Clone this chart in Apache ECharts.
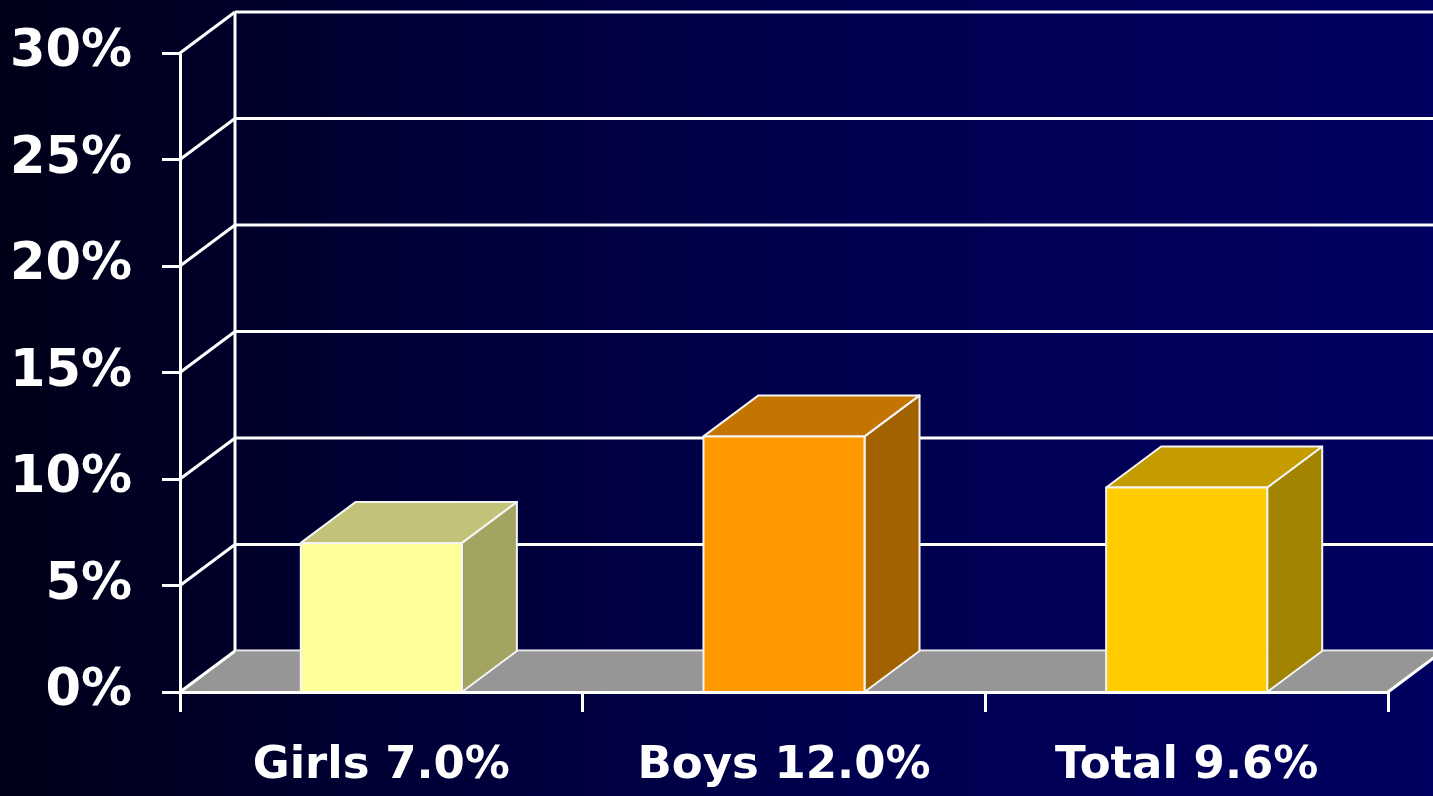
<!DOCTYPE html>
<html>
<head>
<meta charset="utf-8">
<script src="https://cdn.jsdelivr.net/npm/echarts@6/dist/echarts.min.js"></script>
<style>
  html, body { margin: 0; padding: 0; background: #000030; }
  #chart { width: 1433px; height: 796px; }
</style>
</head>
<body>
<div id="chart"></div>
<script>
// data
const categories = ['Girls 7.0%', 'Boys 12.0%', 'Total 9.6%'];
const values = [7.0, 12.0, 9.6];
const yTicks = [0, 5, 10, 15, 20, 25, 30];

// face colours per bar: front, top, side
const frontColors = ['#ffff99', '#ff9900', '#ffcc00'];
const topColors = ['#c2c279', '#c47400', '#c49c00'];
const sideColors = ['#a3a362', '#a36200', '#a38400'];

// depth offset of the 3d look
const DX = 55;
const DY = -41;
const FONT = "'DejaVu Sans', Verdana, sans-serif";

const chart = echarts.init(document.getElementById('chart'));

function backWall(params, api) {
  const cs = params.coordSys;
  const y = api.coord([0, api.value(0)])[1];
  const children = [{
    type: 'line',
    shape: { x1: cs.x + DX, y1: y + DY, x2: cs.x + cs.width + DX, y2: y + DY },
    style: { stroke: '#fff', lineWidth: 3 }
  }];
  if (params.dataIndex === 0) {
    children.push({
      type: 'line',
      shape: { x1: cs.x + DX, y1: cs.y + DY, x2: cs.x + DX, y2: cs.y + cs.height + DY },
      style: { stroke: '#fff', lineWidth: 3 }
    });
  }
  return { type: 'group', children: children };
}

function floor(params, api) {
  const cs = params.coordSys;
  const y = api.coord([0, 0])[1];
  const x0 = cs.x, x1 = cs.x + cs.width;
  return {
    type: 'group',
    children: [{
      type: 'polygon',
      shape: { points: [[x0, y], [x1, y], [x1 + DX, y + DY], [x0 + DX, y + DY]] },
      style: { fill: '#969696' }
    }, {
      type: 'line',
      shape: { x1: x0 + DX, y1: y + DY, x2: x1 + DX, y2: y + DY },
      style: { stroke: '#d0d0d0', lineWidth: 1 }
    }, {
      type: 'line',
      shape: { x1: x1, y1: y, x2: x1 + DX, y2: y + DY },
      style: { stroke: '#fff', lineWidth: 3 }
    }]
  };
}

function sideWall(params, api) {
  const cs = params.coordSys;
  const y = api.coord([0, api.value(0)])[1];
  return {
    type: 'line',
    shape: { x1: cs.x, y1: y, x2: cs.x + DX, y2: y + DY },
    style: { stroke: '#fff', lineWidth: 3 }
  };
}

function bar3d(params, api) {
  const i = api.value(0);
  const base = api.coord([i, 0]);
  const top = api.coord([i, api.value(1)]);
  const w = api.size([1, 0])[0] * 0.4;
  const x = base[0] - w / 2;
  const ty = top[1], by = base[1];
  const edge = { stroke: '#f4f4f4', lineWidth: 2, lineJoin: 'round' };
  return {
    type: 'group',
    children: [{
      type: 'polygon',
      shape: { points: [[x + w, ty], [x + w + DX, ty + DY], [x + w + DX, by + DY], [x + w, by]] },
      style: Object.assign({ fill: sideColors[i] }, edge)
    }, {
      type: 'polygon',
      shape: { points: [[x, ty], [x + DX, ty + DY], [x + w + DX, ty + DY], [x + w, ty]] },
      style: Object.assign({ fill: topColors[i] }, edge)
    }, {
      type: 'rect',
      shape: { x: x, y: ty, width: w, height: by - ty },
      style: Object.assign({ fill: frontColors[i] }, edge)
    }]
  };
}

const option = {
  animation: false,
  backgroundColor: {
    type: 'linear', x: 0, y: 0, x2: 1, y2: 0,
    colorStops: [
      { offset: 0, color: '#000018' },
      { offset: 0.3, color: '#000038' },
      { offset: 0.6, color: '#000050' },
      { offset: 1, color: '#000060' }
    ]
  },
  grid: { left: 180, right: 45, top: 53, bottom: 104 },
  xAxis: {
    type: 'category',
    data: categories,
    z: 10,
    axisLine: { show: true, lineStyle: { color: '#fff', width: 3 } },
    axisTick: { show: true, length: 20, lineStyle: { color: '#fff', width: 3 } },
    axisLabel: {
      color: '#fff', fontSize: 45, fontWeight: 'bold', fontFamily: FONT, margin: 52
    },
    splitLine: { show: false }
  },
  yAxis: {
    type: 'value',
    min: 0,
    max: 30,
    interval: 5,
    z: 10,
    axisLine: { show: true, lineStyle: { color: '#fff', width: 3 } },
    axisTick: { show: true, length: 18, lineStyle: { color: '#fff', width: 3 } },
    axisLabel: {
      color: '#fff', fontSize: 51, fontWeight: 'bold', fontFamily: FONT, margin: 48,
      formatter: '{value}%'
    },
    splitLine: { show: false }
  },
  series: [{
    type: 'custom',
    z: 1,
    renderItem: backWall,
    data: yTicks.map(v => [v]),
    silent: true
  }, {
    type: 'custom',
    z: 2,
    renderItem: floor,
    data: [[0]],
    silent: true
  }, {
    type: 'custom',
    z: 3,
    renderItem: sideWall,
    data: yTicks.map(v => [v]),
    silent: true
  }, {
    type: 'custom',
    z: 4,
    renderItem: bar3d,
    data: values.map((v, i) => [i, v])
  }]
};

chart.setOption(option);
</script>
</body>
</html>
